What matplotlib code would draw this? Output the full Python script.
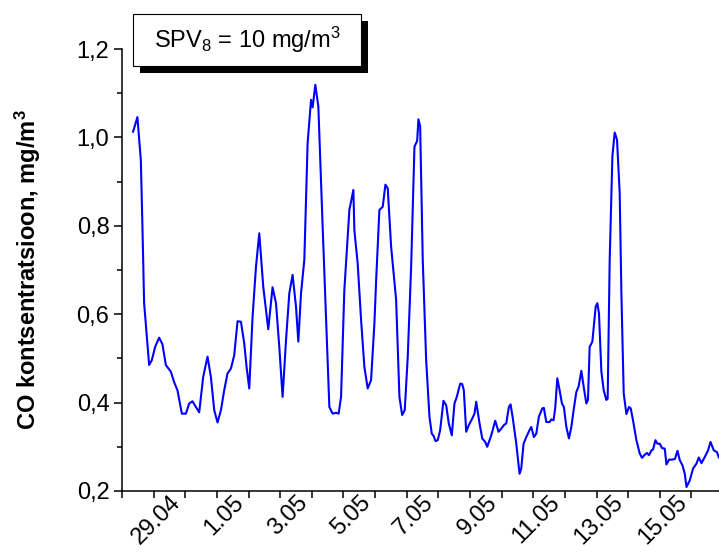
import matplotlib
matplotlib.use("Agg")
import matplotlib.pyplot as plt
from matplotlib.patches import Rectangle
from matplotlib.ticker import FixedLocator, MultipleLocator
from matplotlib.transforms import ScaledTranslation

plt.rcParams["font.family"] = ["Liberation Sans", "DejaVu Sans"]
plt.rcParams["mathtext.fontset"] = "custom"
plt.rcParams["mathtext.rm"] = "Liberation Sans"
plt.rcParams["mathtext.it"] = "Liberation Sans:italic"
plt.rcParams["mathtext.bf"] = "Liberation Sans:bold"

# days counted from 27.04 (0 = 27.04 00:00)
days = [
    0.351, 0.487, 0.595, 0.646, 0.699, 0.858, 0.943, 1.047, 1.174, 1.278,
    1.386, 1.544, 1.649, 1.753, 1.892, 2.019, 2.123, 2.228, 2.335, 2.440,
    2.566, 2.703, 2.810, 2.915, 3.019, 3.127, 3.231, 3.335, 3.443, 3.547,
    3.652, 3.759, 3.864, 3.937, 4.022, 4.127, 4.234, 4.339, 4.465, 4.623,
    4.759, 4.867, 4.972, 5.076, 5.184, 5.288, 5.392, 5.500, 5.573, 5.658,
    5.763, 5.867, 5.975, 6.025, 6.111, 6.206, 6.342, 6.500, 6.554, 6.658,
    6.766, 6.848, 6.924, 7.028, 7.187, 7.313, 7.345, 7.449, 7.557, 7.661,
    7.766, 7.873, 7.978, 8.032, 8.136, 8.241, 8.326, 8.399, 8.506, 8.665,
    8.769, 8.854, 8.937, 9.032, 9.139, 9.244, 9.329, 9.370, 9.424, 9.506,
    9.614, 9.718, 9.791, 9.854, 9.908, 9.981, 10.057, 10.161, 10.247, 10.329,
    10.424, 10.509, 10.582, 10.690, 10.753, 10.804, 10.880, 10.962, 11.070, 11.142,
    11.196, 11.301, 11.386, 11.481, 11.544, 11.671, 11.797, 11.902, 11.987, 12.070,
    12.146, 12.228, 12.282, 12.354, 12.462, 12.566, 12.620, 12.693, 12.778, 12.883,
    12.937, 13.019, 13.095, 13.177, 13.285, 13.335, 13.411, 13.516, 13.570, 13.642,
    13.696, 13.759, 13.832, 13.905, 13.968, 14.044, 14.127, 14.203, 14.275, 14.361,
    14.434, 14.519, 14.601, 14.677, 14.728, 14.782, 14.867, 14.972, 15.025, 15.076,
    15.152, 15.225, 15.310, 15.351, 15.415, 15.500, 15.573, 15.646, 15.731, 15.785,
    15.858, 15.943, 16.025, 16.079, 16.152, 16.259, 16.364, 16.437, 16.522, 16.595,
    16.658, 16.734, 16.785, 16.861, 16.924, 16.997, 17.070, 17.155, 17.209, 17.291,
    17.399, 17.481, 17.557, 17.630, 17.715, 17.788, 17.842, 17.946, 18.051, 18.158,
    18.231, 18.316, 18.421, 18.525, 18.601, 18.706, 18.804, 18.864,
]

co = [
    1.013, 1.046, 0.949, 0.798, 0.625, 0.485, 0.496, 0.526, 0.547, 0.532,
    0.485, 0.470, 0.446, 0.428, 0.375, 0.375, 0.398, 0.403, 0.390, 0.378,
    0.458, 0.504, 0.458, 0.383, 0.355, 0.383, 0.428, 0.466, 0.477, 0.507,
    0.584, 0.583, 0.534, 0.481, 0.432, 0.594, 0.707, 0.783, 0.662, 0.566,
    0.661, 0.625, 0.526, 0.413, 0.541, 0.647, 0.689, 0.617, 0.538, 0.647,
    0.723, 0.987, 1.085, 1.068, 1.119, 1.070, 0.798, 0.496, 0.390, 0.375,
    0.377, 0.375, 0.413, 0.655, 0.836, 0.881, 0.790, 0.715, 0.587, 0.481,
    0.432, 0.451, 0.579, 0.675, 0.836, 0.843, 0.893, 0.885, 0.753, 0.632,
    0.413, 0.372, 0.383, 0.504, 0.707, 0.979, 0.992, 1.041, 1.025, 0.723,
    0.496, 0.368, 0.330, 0.324, 0.313, 0.315, 0.338, 0.404, 0.394, 0.353,
    0.326, 0.398, 0.413, 0.443, 0.442, 0.428, 0.334, 0.349, 0.364, 0.375,
    0.402, 0.353, 0.319, 0.311, 0.300, 0.326, 0.359, 0.334, 0.341, 0.349,
    0.353, 0.390, 0.396, 0.364, 0.307, 0.239, 0.251, 0.307, 0.322, 0.338,
    0.345, 0.322, 0.330, 0.368, 0.387, 0.388, 0.356, 0.356, 0.362, 0.360,
    0.390, 0.455, 0.428, 0.398, 0.390, 0.345, 0.319, 0.345, 0.383, 0.424,
    0.437, 0.472, 0.432, 0.398, 0.406, 0.526, 0.538, 0.617, 0.625, 0.602,
    0.470, 0.428, 0.406, 0.409, 0.723, 0.957, 1.011, 0.995, 0.874, 0.647,
    0.421, 0.374, 0.390, 0.387, 0.360, 0.315, 0.285, 0.275, 0.282, 0.286,
    0.281, 0.292, 0.294, 0.315, 0.307, 0.307, 0.297, 0.296, 0.260, 0.271,
    0.271, 0.273, 0.291, 0.270, 0.258, 0.239, 0.209, 0.224, 0.251, 0.262,
    0.276, 0.263, 0.277, 0.292, 0.311, 0.292, 0.288, 0.276,
]

tick_days = list(range(0, 19))
tick_labels = [
    "", "", "29.04", "", "1.05", "", "3.05", "", "5.05", "", "7.05", "",
    "9.05", "", "11.05", "", "13.05", "", "15.05",
]
y_ticks = [0.2, 0.4, 0.6, 0.8, 1.0, 1.2]
y_labels = ["0,2", "0,4", "0,6", "0,8", "1,0", "1,2"]

W, H = 719, 554
fig = plt.figure(figsize=(W / 100, H / 100), dpi=100)
ax = fig.add_axes([122 / W, 1 - 491 / H, 597 / W, 442 / H])

ax.plot(days, co, color="#0000ff", lw=1.5)

ax.set_xlim(0, 18.87)
ax.set_ylim(0.2, 1.2)
ax.spines["top"].set_visible(False)
ax.spines["right"].set_visible(False)
for s in ("left", "bottom"):
    ax.spines[s].set_linewidth(1.1)

ax.xaxis.set_major_locator(FixedLocator(tick_days))
ax.set_xticklabels(tick_labels, rotation=45, ha="right", va="center",
                   rotation_mode="anchor", fontsize=17)
ax.tick_params(axis="x", direction="out", length=5, width=1.1, pad=1)
shift = ScaledTranslation(-8 / 100, 0, fig.dpi_scale_trans)
for lab in ax.get_xticklabels():
    lab.set_transform(lab.get_transform() + shift)

ax.set_yticks(y_ticks)
ax.set_yticklabels(y_labels, fontsize=17)
ax.yaxis.set_minor_locator(MultipleLocator(0.1))
ax.tick_params(axis="y", which="major", direction="out", length=6, width=1.1, pad=3)
ax.tick_params(axis="y", which="minor", direction="out", length=3.5, width=1.1)

ax.set_ylabel(r"CO kontsentratsioon, mg/m$^{\mathbf{3}}$", fontsize=17,
              fontweight="bold", labelpad=24)

# SPV label box with drop shadow
fig.add_artist(Rectangle((140 / W, 1 - 73 / H), 228 / W, 52 / H,
                         transform=fig.transFigure, facecolor="black",
                         edgecolor="black", lw=0))
fig.add_artist(Rectangle((133 / W, 1 - 66 / H), 228 / W, 52 / H,
                         transform=fig.transFigure, facecolor="white",
                         edgecolor="black", lw=0.8))
fig.text(247 / W, 1 - 40 / H, r"SPV$_8$ = 10 mg/m$^3$", ha="center",
         va="center", fontsize=17)

fig.savefig("out.png", dpi=100)
